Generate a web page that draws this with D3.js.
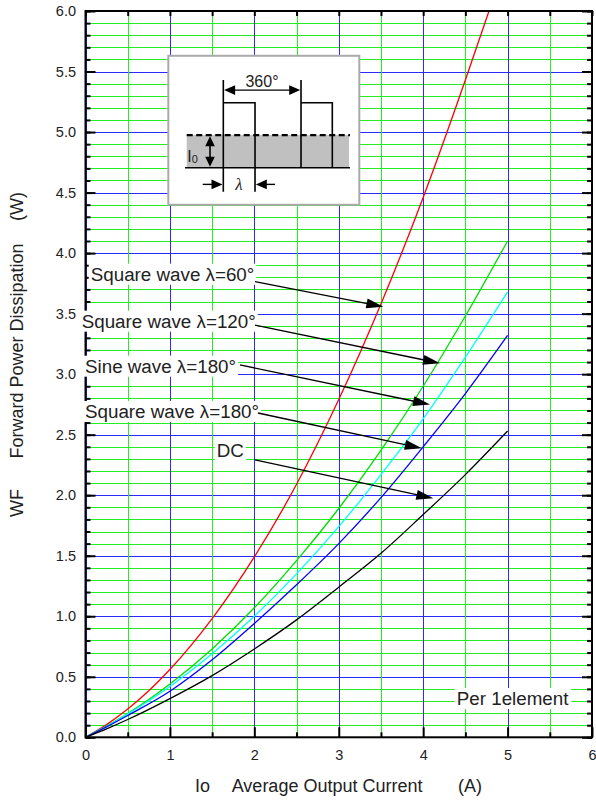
<!DOCTYPE html>
<html>
<head>
<meta charset="utf-8">
<script src="https://cdn.jsdelivr.net/npm/d3@7"></script>
<style>
  html,body{margin:0;padding:0;background:#fff;}
  svg{display:block;}
  text{font-family:"Liberation Sans", Arial, Helvetica, sans-serif; fill:#222;}
</style>
</head>
<body>
<svg id="chart" width="596" height="800"></svg>
<script>
// ---------------- data ----------------
const xDomain = [0, 6];
const yDomain = [0, 6];
const xMajorTicks = [0, 1, 2, 3, 4, 5, 6];
const xMinorTicks = [0.5, 1.5, 2.5, 3.5, 4.5, 5.5];
const yMajorTicks = [0, 0.5, 1, 1.5, 2, 2.5, 3, 3.5, 4, 4.5, 5, 5.5, 6];
const xTickLabels = ["0", "1", "2", "3", "4", "5", "6"];
const yTickLabels = ["0.0","0.5","1.0","1.5","2.0","2.5","3.0","3.5","4.0","4.5","5.0","5.5","6.0"];

const sq60  = [[0,0],[0.25,0.105],[0.5,0.234],[0.75,0.385],[1,0.56],[1.5,0.98],[2,1.49],[2.5,2.09],[3,2.79],[3.5,3.58],[4,4.46],[4.5,5.43],[4.78,6.0]];
const sq120 = [[0,0],[0.25,0.092],[0.5,0.196],[1,0.44],[1.5,0.73],[2,1.07],[2.5,1.46],[3,1.89],[3.5,2.37],[4,2.90],[4.5,3.48],[5,4.10]];
const sine180 = [[0,0],[0.25,0.09],[0.5,0.192],[1,0.42],[1.5,0.69],[2,1.00],[2.5,1.35],[3,1.74],[3.5,2.17],[4,2.63],[4.5,3.14],[5,3.68]];
const sq180 = [[0,0],[0.25,0.086],[0.5,0.18],[1,0.38],[1.5,0.64],[2,0.94],[2.5,1.26],[3,1.60],[3.5,1.98],[4,2.40],[4.5,2.84],[5,3.32]];
const dc    = [[0,0],[0.25,0.07],[0.5,0.147],[1,0.32],[1.5,0.51],[2,0.73],[2.5,0.97],[3,1.24],[3.5,1.52],[4,1.84],[4.5,2.17],[5,2.53]];

const seriesNames  = ["Square wave λ=60°", "Square wave λ=120°", "Sine wave λ=180°", "Square wave λ=180°", "DC"];
const seriesData   = [sq60, sq120, sine180, sq180, dc];
const seriesColors = ["#ff0000", "#00dd00", "#00ffff", "#0000ff", "#000000"];

// label anchor (text left, baseline) and arrow start/tip, in data units
const labelPos   = [[0.062,3.772],[-0.045,3.384],[-0.006,3.012],[-0.006,2.638],[1.554,2.318]];
const arrowStart = [[2.008,3.764],[2.008,3.405],[1.830,3.076],[2.043,2.679],[2.008,2.291]];
const arrowTip   = [[3.528,3.557],[4.199,3.090],[4.081,2.749],[3.983,2.387],[4.120,1.974]];

const noteText = "Per 1element";
const notePos = [4.398, 0.267];
const insetCorner = [0.981, 5.63];   // data coords of inset's top-left
const xTitle = ["Io", "Average Output Current", "(A)"];
const yTitle = ["WF", "Forward Power Dissipation", "(W)"];

// ---------------- chart ----------------
const svg = d3.select("#chart");
const x = d3.scaleLinear().domain(xDomain).range([85.5, 592]);
const y = d3.scaleLinear().domain(yDomain).range([737.3, 11]);
const X0 = x(0), X1 = x(6), Y0 = y(0), Y1 = y(6);
const snap = v => Math.round(v) + 0.5;
const BLUE = "#2a2aff", GREEN = "#22ee22";

// grid
const grid = svg.append("g").attr("shape-rendering","crispEdges");
const hGrid = y.ticks(60);
grid.selectAll("line.h").data(hGrid).join("line").attr("class","h")
  .attr("x1", X0).attr("x2", X1)
  .attr("y1", d => snap(y(d))).attr("y2", d => snap(y(d)))
  .attr("stroke", (d,i) => (i % 5 === 0) ? BLUE : GREEN)
  .attr("stroke-width", 1);
const vGrid = x.ticks(12);
grid.selectAll("line.v").data(vGrid).join("line").attr("class","v")
  .attr("y1", Y0).attr("y2", Y1)
  .attr("x1", d => snap(x(d))).attr("x2", d => snap(x(d)))
  .attr("stroke", (d,i) => (i % 2 === 0) ? BLUE : GREEN)
  .attr("stroke-width", 1);

// curves
const line = d3.line().x(d => x(d[0])).y(d => y(d[1])).curve(d3.curveMonotoneX);
svg.append("g").selectAll("path").data(seriesData).join("path")
  .attr("d", line)
  .attr("fill", "none")
  .attr("stroke", (d,i) => seriesColors[i])
  .attr("stroke-width", 1.3);

// axes
function styleAxis(g){
  g.select(".domain").remove();
  g.selectAll(".tick line").attr("stroke","#000").attr("stroke-width",2);
  g.selectAll(".tick text").attr("font-size","14.5px").attr("fill","#222")
    .attr("font-family",'"Liberation Sans", Arial, sans-serif');
}
svg.append("g").attr("transform",`translate(${X0},0)`)
  .call(d3.axisLeft(y).tickValues(yMajorTicks).tickSizeInner(-10).tickSizeOuter(0).tickPadding(9.5)
    .tickFormat((d,i) => yTickLabels[i]))
  .call(styleAxis);
svg.append("g").attr("transform",`translate(${X0},0)`)
  .call(d3.axisLeft(y).ticks(60).tickSizeInner(-5).tickSizeOuter(0).tickFormat(""))
  .call(styleAxis);
svg.append("g").attr("transform",`translate(${X1},0)`)
  .call(d3.axisRight(y).tickValues(yMajorTicks).tickSizeInner(-10).tickSizeOuter(0).tickFormat(""))
  .call(styleAxis);
svg.append("g").attr("transform",`translate(${X1},0)`)
  .call(d3.axisRight(y).ticks(60).tickSizeInner(-5).tickSizeOuter(0).tickFormat(""))
  .call(styleAxis);
svg.append("g").attr("transform",`translate(0,${Y0})`)
  .call(d3.axisBottom(x).tickValues(xMajorTicks).tickSizeInner(-10).tickSizeOuter(0).tickPadding(12)
    .tickFormat((d,i) => xTickLabels[i]))
  .call(styleAxis);
svg.append("g").attr("transform",`translate(0,${Y0})`)
  .call(d3.axisBottom(x).tickValues(xMinorTicks).tickSizeInner(-5).tickSizeOuter(0).tickFormat(""))
  .call(styleAxis);
svg.append("g").attr("transform",`translate(0,${Y1})`)
  .call(d3.axisTop(x).tickValues(xMajorTicks.concat(xMinorTicks)).tickSizeInner(-5).tickSizeOuter(0).tickFormat(""))
  .call(styleAxis);
svg.append("rect").attr("x",X0).attr("y",Y1).attr("width",X1-X0).attr("height",Y0-Y1)
  .attr("fill","none").attr("stroke","#000").attr("stroke-width",2);

// inset diagram
const ins = svg.append("g").attr("transform",`translate(${x(insetCorner[0])},${y(insetCorner[1])})`);
ins.append("rect").attr("width",191).attr("height",149).attr("fill","#fff")
  .attr("stroke","#aaa").attr("stroke-width",2);
ins.append("rect").attr("x",18.4).attr("y",79.3).attr("width",162.3).attr("height",32.7).attr("fill","#c0c0c0");
ins.append("line").attr("x1",18.4).attr("x2",181.7).attr("y1",79.3).attr("y2",79.3)
  .attr("stroke","#000").attr("stroke-width",2.2).attr("stroke-dasharray","6,3.5");
ins.append("line").attr("x1",16.7).attr("x2",181.7).attr("y1",112).attr("y2",112)
  .attr("stroke","#000").attr("stroke-width",1.6);
const pulsePath = "M55,24.3 V136 M55,47 H86.7 V136 M132.7,24.3 V112 M132.7,47 H164 V112";
ins.append("path").attr("d",pulsePath).attr("fill","none").attr("stroke","#000").attr("stroke-width",1.6);
function head(g, tx, ty, ang, len, hw){
  const c = Math.cos(ang), s = Math.sin(ang);
  const bx = tx - c*len, by = ty - s*len;
  g.append("path").attr("d",`M${tx},${ty} L${bx - s*hw},${by + c*hw} L${bx + s*hw},${by - c*hw} Z`).attr("fill","#000");
}
// 360 arrow
ins.append("line").attr("x1",60).attr("x2",128).attr("y1",34.3).attr("y2",34.3).attr("stroke","#000").attr("stroke-width",1.4);
head(ins, 55.8, 34.3, Math.PI, 11, 4.8);
head(ins, 131.9, 34.3, 0, 11, 4.8);
ins.append("text").attr("x",93.7).attr("y",31).attr("text-anchor","middle").attr("font-size","16px").text("360°");
// I0 arrow
ins.append("line").attr("x1",41.7).attr("x2",41.7).attr("y1",84).attr("y2",107).attr("stroke","#000").attr("stroke-width",1.6);
head(ins, 41.7, 80.5, -Math.PI/2, 10, 4.8);
head(ins, 41.7, 111, Math.PI/2, 10, 4.8);
const it = ins.append("text").attr("x",19).attr("y",106).attr("font-size","16px");
it.append("tspan").text("I");
it.append("tspan").attr("font-size","11px").attr("dy",1).text("0");
// lambda arrows
ins.append("line").attr("x1",34.4).attr("x2",48).attr("y1",128.6).attr("y2",128.6).attr("stroke","#000").attr("stroke-width",1.4);
head(ins, 54.2, 128.6, 0, 11, 4.8);
ins.append("line").attr("x1",106.7).attr("x2",93).attr("y1",128.6).attr("y2",128.6).attr("stroke","#000").attr("stroke-width",1.4);
head(ins, 87.5, 128.6, Math.PI, 11, 4.8);
ins.append("text").attr("x",70.5).attr("y",134.3).attr("text-anchor","middle")
  .attr("font-size","17px").attr("font-style","italic")
  .style("font-family",'"Liberation Serif", "Times New Roman", serif').text("λ");

// annotation labels with white boxes
const labG = svg.append("g");
seriesNames.forEach((name, i) => {
  const g = labG.append("g");
  const t = g.append("text").attr("x", x(labelPos[i][0])).attr("y", y(labelPos[i][1]))
    .attr("font-size","18.8px").text(name);
  const b = t.node().getBBox();
  g.insert("rect","text").attr("x",b.x-2).attr("y",b.y).attr("width",b.width+4).attr("height",b.height)
    .attr("fill","#fff");
});
// arrows
const arrG = svg.append("g");
arrowStart.forEach((s, i) => {
  const sx = x(s[0]), sy = y(s[1]), tx = x(arrowTip[i][0]), ty = y(arrowTip[i][1]);
  const ang = Math.atan2(ty - sy, tx - sx);
  const len = 17;
  arrG.append("line").attr("x1",sx).attr("y1",sy)
    .attr("x2",tx - Math.cos(ang)*len*0.8).attr("y2",ty - Math.sin(ang)*len*0.8)
    .attr("stroke","#000").attr("stroke-width",1.3);
  head(arrG, tx, ty, ang, len, 5);
});

// note
const ng = svg.append("g");
const nt = ng.append("text").attr("x",x(notePos[0])).attr("y",y(notePos[1])).attr("font-size","18.8px").text(noteText);
const nb = nt.node().getBBox();
ng.insert("rect","text").attr("x",nb.x-2).attr("y",nb.y).attr("width",nb.width+4).attr("height",nb.height).attr("fill","#fff");

// axis titles
const xt = svg.append("g").attr("font-size","18px");
xt.append("text").attr("x",195).attr("y",792).text(xTitle[0]);
xt.append("text").attr("x",231.7).attr("y",792).text(xTitle[1]);
xt.append("text").attr("x",458).attr("y",792).text(xTitle[2]);
const yt = svg.append("g").attr("font-size","18px");
yt.append("text").attr("transform","translate(23,517) rotate(-90)").attr("text-anchor","start").text(yTitle[0]);
yt.append("text").attr("transform","translate(23,351) rotate(-90)").attr("text-anchor","middle").text(yTitle[1]);
yt.append("text").attr("transform","translate(23,192) rotate(-90)").attr("text-anchor","end").text(yTitle[2]);
</script>
</body>
</html>
